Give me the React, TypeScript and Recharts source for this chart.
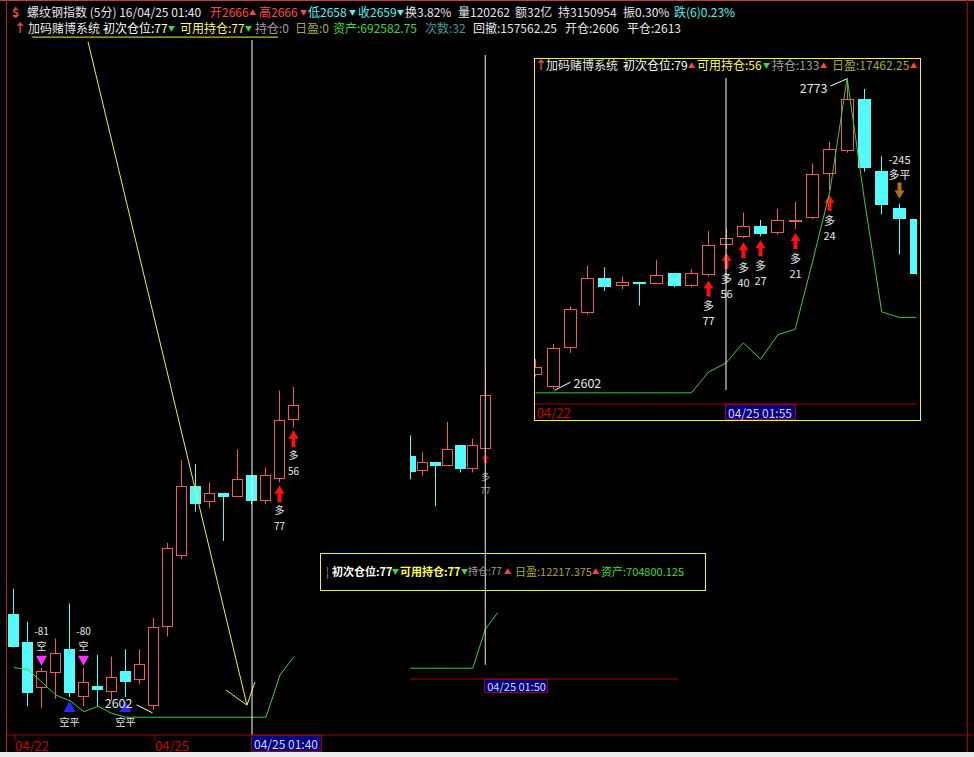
import React from "react";
import { Bar, ComposedChart, Line, ReferenceLine, XAxis, YAxis } from "recharts";

const FONT = '"Noto Sans CJK SC", "Noto Sans", sans-serif';
const UP = "#f05a5a";
const DOWN = "#55fbfb";
const EQ = "#3ccc3c";
const AXIS = "#a00000";
const RED = "#ff4848";
const CYAN = "#55f0f0";
const WHITE = "#e6e6e6";
const YELLOW = "#ffff50";
const GREY = "#a0a0a0";
const OLIVE = "#a8a838";
const GREEN = "#3cdc3c";
const TEAL = "#3c9c9c";

// 螺纹钢指数 5分钟 bars, index 0 = first bar at the left of the main window
const opens = [2628, 2620.5, 2608, 2612, 2618.5, 2605.5, 2608.5, 2607, 2612.5, 2610, 2603, 2624.5, 2644, 2663, 2658.5, 2661, 2660, 2666, 2659, 2665, 2681, 2685.5, 2691.5, 2688, 2694.5, 2696, 2720, 2733, 2761.5, 2722, 2701.5, 2695.5];
const highs = [2635, 2626, 2613.5, 2621.5, 2631, 2613.5, 2617, 2616.5, 2618.5, 2618.5, 2627, 2647.5, 2670, 2669, 2664, 2661, 2673, 2666, 2668, 2689, 2690, 2699, 2695, 2701, 2705, 2726, 2738, 2773, 2767, 2730, 2704, 2695.5];
const lows = [2619, 2603, 2602.5, 2605, 2605.5, 2603, 2603, 2604.5, 2605.5, 2609, 2602, 2622, 2643, 2656, 2657, 2648, 2660, 2658, 2658, 2664, 2679, 2685, 2686, 2687, 2690, 2695.5, 2711, 2732, 2721.5, 2698, 2676, 2665];
const closes = [2619, 2606.5, 2612.5, 2617.5, 2606.5, 2609.5, 2607.5, 2611, 2609.5, 2614.5, 2624.5, 2646, 2663, 2658, 2661, 2660, 2665, 2659, 2666, 2681, 2685, 2691.5, 2687.5, 2695, 2695, 2720, 2734, 2761.5, 2723.5, 2703, 2695.5, 2665.5];
// equity curve of the system, drawn on the price scale
const equity = [2613.5, 2613, 2609.5, 2606, 2604.5, 2601.5, 2603, 2601, 2600, 2600, 2600, 2600, 2600, 2600, 2600, 2600, 2600, 2600, 2600, 2611.5, 2616.5, 2627.5, 2618.5, 2632, 2635, 2672, 2710.5, 2773, 2706, 2644.5, 2641.5, 2641.5];

type Signal = { i: number; kind: "long" | "short" | "cover" | "sell"; text: string; note?: string };
const signals: Signal[] = [
  { i: 2, kind: "short", text: "空", note: "-81" },
  { i: 4, kind: "cover", text: "空平" },
  { i: 5, kind: "short", text: "空", note: "-80" },
  { i: 8, kind: "cover", text: "空平" },
  { i: 19, kind: "long", text: "多", note: "77" },
  { i: 20, kind: "long", text: "多", note: "56" },
  { i: 21, kind: "long", text: "多", note: "40" },
  { i: 22, kind: "long", text: "多", note: "27" },
  { i: 24, kind: "long", text: "多", note: "21" },
  { i: 26, kind: "long", text: "多", note: "24" },
  { i: 30, kind: "sell", text: "多平", note: "-245" },
];

// hand drawn yellow arrow on the main window: [bar index, price] pairs
const trendArrow = [
  [[1.29, 2785.3], [18.86, 2785.3]],
  [[5.29, 2784], [16.64, 2603.3]],
  [[15.14, 2607.4], [16.64, 2603.3]],
  [[17.21, 2609.6], [16.64, 2603.3]],
];

const mainDates: Record<number, string> = { 0: "04/22", 10: "04/25" };
const insetDates: Record<number, string> = { 9: "04/22" };

type Seg = { t: string; x: number; c: string; s?: number; b?: boolean };
const quoteRow: Seg[] = [
  { t: "$", x: 12, c: RED, b: true },
  { t: "螺纹钢指数 (5分) 16/04/25 01:40", x: 27, c: WHITE },
  { t: "开2666", x: 210, c: RED }, { t: "▲", x: 249, c: RED, s: 7 },
  { t: "高2666", x: 259, c: RED }, { t: "▼", x: 300, c: RED, s: 7 },
  { t: "低2658", x: 308, c: CYAN }, { t: "▼", x: 349, c: CYAN, s: 7 },
  { t: "收2659", x: 358, c: CYAN }, { t: "▼", x: 397, c: CYAN, s: 7 },
  { t: "换3.82%", x: 405, c: WHITE },
  { t: "量120262", x: 458, c: WHITE },
  { t: "额32亿", x: 515, c: WHITE },
  { t: "持3150954", x: 558, c: WHITE },
  { t: "振0.30%", x: 623, c: WHITE },
  { t: "跌(6)0.23%", x: 674, c: CYAN },
];
const systemRow: Seg[] = [
  { t: "↑", x: 14, c: RED, b: true },
  { t: "加码赌博系统", x: 28, c: WHITE },
  { t: "初次仓位:77", x: 103, c: "#ffffff" }, { t: "▼", x: 168, c: GREEN, s: 7 },
  { t: "可用持仓:77", x: 180, c: YELLOW }, { t: "▼", x: 245, c: GREEN, s: 7 },
  { t: "持仓:0", x: 255, c: GREY },
  { t: "日盈:0", x: 295, c: OLIVE },
  { t: "资产:692582.75", x: 333, c: GREEN },
  { t: "次数:32", x: 425, c: TEAL },
  { t: "回撤:157562.25", x: 473, c: WHITE },
  { t: "开仓:2606", x: 565, c: WHITE },
  { t: "平仓:2613", x: 627, c: WHITE },
];
const insetRow: Seg[] = [
  { t: "↑", x: 535, c: RED, b: true },
  { t: "加码赌博系统", x: 546, c: WHITE },
  { t: "初次仓位:79", x: 623, c: "#ffffff" }, { t: "▲", x: 688, c: RED, s: 7 },
  { t: "可用持仓:56", x: 697, c: YELLOW }, { t: "▼", x: 763, c: GREEN, s: 7 },
  { t: "持仓:133", x: 772, c: GREY }, { t: "▲", x: 820, c: RED, s: 7 },
  { t: "日盈:17462.25", x: 832, c: OLIVE }, { t: "▲", x: 910, c: RED, s: 7 },
];
const infoRow: Seg[] = [
  { t: "¦", x: 326, c: GREY, s: 11 },
  { t: "初次仓位:77", x: 332, c: "#ffffff", s: 11, b: true },
  { t: "▼", x: 392, c: GREEN, s: 7 },
  { t: "可用持仓:77", x: 400, c: YELLOW, s: 11, b: true },
  { t: "▼", x: 461, c: GREEN, s: 7 },
  { t: "持仓:77", x: 468, c: GREY, s: 10 },
  { t: "▲", x: 504, c: RED, s: 7 },
  { t: "日盈:12217.375", x: 515, c: OLIVE, s: 11 },
  { t: "▲", x: 592, c: RED, s: 7 },
  { t: "资产:704800.125", x: 601, c: GREEN, s: 11 },
];

const rows = opens.map((o, i) => ({
  i,
  o,
  h: highs[i],
  l: lows[i],
  c: closes[i],
  range: [lows[i], highs[i]],
  eq: equity[i],
}));
const pad = (from: number, to: number) => Array.from({ length: to - from }, (_, k) => ({ i: from + k }));
const mainRows = [...rows.slice(0, 21), ...pad(21, 69)];
const insetRows = rows.slice(9, 32);
const midRows = [...rows.slice(13, 20), { i: 20, eq: equity[20] }, ...pad(21, 35)];

const sigByBar = new Map(signals.map((s) => [s.i, s]));

type Extreme = { i: number; at: "low" | "high"; side: "left" | "right" };
type CandleStyle = {
  bodyW: number;
  arrowW: number;
  arrowH: number;
  gap: number;
  t1: number;
  t2: number;
  arrowFill: string;
  textFill: string;
  fontSize: number;
  extremes: Extreme[];
};

const makeCandle = (st: CandleStyle) => (props: any) => {
  const { x, y, width, height, payload } = props;
  if (!payload || payload.o == null || !Number.isFinite(y) || !Number.isFinite(height)) return <g />;
  const top = Math.min(y, y + height);
  const bot = Math.max(y, y + height);
  const k = (bot - top) / (payload.h - payload.l);
  const py = (p: number) => top + (payload.h - p) * k;
  const cx = Math.floor(x + width / 2) + 0.5;
  const up = payload.c >= payload.o;
  const yh = py(payload.h);
  const yl = py(payload.l);
  const bTop = Math.round(py(Math.max(payload.o, payload.c)));
  const bBot = Math.round(py(Math.min(payload.o, payload.c)));
  const parts: React.ReactNode[] = [];
  if (up) {
    parts.push(<line key="w1" x1={cx} x2={cx} y1={yh} y2={bTop} stroke={UP} />);
    parts.push(<line key="w2" x1={cx} x2={cx} y1={bBot} y2={yl} stroke={UP} />);
    parts.push(
      <rect key="b" x={cx - (st.bodyW - 1) / 2} y={bTop + 0.5} width={st.bodyW - 1}
        height={Math.max(1, bBot - bTop - 1)} fill="none" stroke={UP} />
    );
  } else {
    parts.push(<line key="w" x1={cx} x2={cx} y1={yh} y2={yl} stroke={DOWN} />);
    parts.push(
      <rect key="b" x={cx - st.bodyW / 2} y={bTop} width={st.bodyW} height={Math.max(2, bBot - bTop)} fill={DOWN} />
    );
  }

  const txt = (key: string, ty: number, s: string, fill = st.textFill, size = st.fontSize) => (
    <text key={key} x={cx} y={ty} textAnchor="middle" dominantBaseline="central"
      fontFamily={FONT} fontSize={size} fill={fill}>{s}</text>
  );

  const sig = sigByBar.get(payload.i);
  if (sig) {
    const H = st.arrowH;
    const hh = H * 0.5;
    const w = st.arrowW / 2;
    const s = Math.max(1.5, st.arrowW / 5);
    if (sig.kind === "long") {
      const t = yl + st.gap;
      parts.push(
        <path key="sa" fill={st.arrowFill}
          d={`M${cx},${t} L${cx + w},${t + hh} L${cx + s},${t + hh} L${cx + s},${t + H} L${cx - s},${t + H} L${cx - s},${t + hh} L${cx - w},${t + hh} Z`} />
      );
      parts.push(txt("st", yl + st.t1, sig.text));
      if (sig.note) parts.push(txt("sn", yl + st.t2, sig.note));
    } else if (sig.kind === "sell") {
      const b = yh - 5;
      parts.push(
        <path key="sa" fill="#b07018"
          d={`M${cx},${b} L${cx + w},${b - hh} L${cx + s},${b - hh} L${cx + s},${b - H} L${cx - s},${b - H} L${cx - s},${b - hh} L${cx - w},${b - hh} Z`} />
      );
      parts.push(txt("st", yh - 30, sig.text));
      if (sig.note) parts.push(txt("sn", yh - 45, sig.note));
    } else if (sig.kind === "short") {
      parts.push(<path key="sa" fill="#ff33ff" d={`M${cx - 5.5},${yh - 12} L${cx + 5.5},${yh - 12} L${cx},${yh - 2} Z`} />);
      parts.push(txt("st", yh - 22, sig.text));
      if (sig.note) parts.push(txt("sn", yh - 37, sig.note));
    } else {
      parts.push(<path key="sa" fill="#2626ff" d={`M${cx},${yl + 4} L${cx + 6},${yl + 15} L${cx - 6},${yl + 15} Z`} />);
      parts.push(txt("st", yl + 24, sig.text));
    }
  }

  const ex = st.extremes.find((e) => e.i === payload.i);
  if (ex) {
    const label = String(Math.round(ex.at === "low" ? payload.l : payload.h));
    if (ex.at === "low" && ex.side === "left") {
      parts.push(<line key="el" x1={cx - 17} y1={yl - 5} x2={cx - 1} y2={yl + 3} stroke="#ffffff" />);
      parts.push(<text key="et" x={cx - 21} y={yl - 7} textAnchor="end" dominantBaseline="central" fontFamily={FONT} fontSize={12.5} fill={WHITE}>{label}</text>);
    } else if (ex.at === "low") {
      parts.push(<line key="el" x1={cx + 1} y1={yl + 1} x2={cx + 17} y2={yl - 7} stroke="#ffffff" />);
      parts.push(<text key="et" x={cx + 20} y={yl - 7} textAnchor="start" dominantBaseline="central" fontFamily={FONT} fontSize={12.5} fill={WHITE}>{label}</text>);
    } else {
      parts.push(<line key="el" x1={cx - 17} y1={yh + 8} x2={cx - 1} y2={yh + 1} stroke="#ffffff" />);
      parts.push(<text key="et" x={cx - 20} y={yh + 9} textAnchor="end" dominantBaseline="central" fontFamily={FONT} fontSize={12.5} fill={WHITE}>{label}</text>);
    }
  }
  return <g>{parts}</g>;
};

type TickCfg = {
  dates: Record<number, string>;
  cursor: { i: number; label: string };
  boxW: number;
  boxH: number;
  fontSize: number;
  dateTick: boolean;
  dateDy: number;
};

const makeTick = (cfg: TickCfg) => (props: any) => {
  const { x, y, payload } = props;
  const v = Number(payload?.value);
  if (v === cfg.cursor.i) {
    return (
      <g>
        <rect x={Math.round(x) - 0.5} y={y + 0.5} width={cfg.boxW} height={cfg.boxH} fill="#000080" stroke={AXIS} />
        <text x={x + 2} y={y + cfg.boxH / 2 + 0.5} dominantBaseline="central" fill="#d8d8ff"
          fontSize={cfg.fontSize} fontFamily={FONT}>{cfg.cursor.label}</text>
      </g>
    );
  }
  const d = cfg.dates[v];
  if (!d) return <g />;
  return (
    <g>
      {cfg.dateTick && <line x1={x + 1} x2={x + 1} y1={y} y2={y + 6} stroke={AXIS} />}
      <text x={x + 1} y={y + cfg.dateDy} dominantBaseline="central" fill="#c80000" fontSize={13} fontFamily={FONT}>{d}</text>
    </g>
  );
};

const mainCandle = makeCandle({
  bodyW: 11, arrowW: 10, arrowH: 17, gap: 3, t1: 27, t2: 43,
  arrowFill: "#ff1010", textFill: WHITE, fontSize: 10,
  extremes: [{ i: 10, at: "low", side: "left" }],
});
const insetCandle = makeCandle({
  bodyW: 13, arrowW: 10, arrowH: 16, gap: 4, t1: 29, t2: 44,
  arrowFill: "#ff1010", textFill: WHITE, fontSize: 11,
  extremes: [{ i: 10, at: "low", side: "right" }, { i: 27, at: "high", side: "left" }],
});
const midCandle = makeCandle({
  bodyW: 11, arrowW: 8, arrowH: 9, gap: 2, t1: 24, t2: 38,
  arrowFill: "#d00000", textFill: "#a0a0a0", fontSize: 9,
  extremes: [],
});

const mainTick = makeTick({ dates: mainDates, cursor: { i: 17, label: "04/25 01:40" }, boxW: 70, boxH: 16, fontSize: 12, dateTick: true, dateDy: 10 });
const insetTick = makeTick({ dates: insetDates, cursor: { i: 20, label: "04/25 01:55" }, boxW: 70, boxH: 15, fontSize: 12, dateTick: false, dateDy: 8 });
const midTick = makeTick({ dates: {}, cursor: { i: 19, label: "04/25 01:50" }, boxW: 63, boxH: 13, fontSize: 11, dateTick: false, dateDy: 8 });

const TextRow = ({ segs, y }: { segs: Seg[]; y: number }) => (
  <>
    {segs.map((s, k) => (
      <span key={k} style={{
        position: "absolute", left: s.x, top: y - 8, lineHeight: "16px", fontSize: s.s ?? 12,
        color: s.c, fontWeight: s.b ? 700 : 400, whiteSpace: "nowrap", fontFamily: FONT,
      }}>{s.t}</span>
    ))}
  </>
);

export default function App() {
  return (
    <div style={{ position: "fixed", left: 0, top: 0, width: 974, height: 757, background: "#000", overflow: "hidden", fontFamily: FONT }}>
      {/* main window */}
      <div style={{ position: "absolute", left: 0, top: 0 }}>
        <ComposedChart width={974} height={757} data={mainRows} margin={{ top: 36, right: 1, bottom: 0, left: 7 }}>
          <XAxis dataKey="i" type="category" height={22} axisLine={{ stroke: AXIS }} tickLine={false}
            tickSize={0} tickMargin={0} ticks={[0, 10, 17]} interval={0} tick={mainTick} />
          <XAxis xAxisId="n" dataKey="i" type="number" domain={[-0.5, 68.5]} hide allowDataOverflow />
          <YAxis hide type="number" domain={[2595.15, 2785.6]} allowDataOverflow />
          <Bar dataKey="range" shape={mainCandle} isAnimationActive={false} />
          <Line dataKey="eq" stroke={EQ} dot={false} activeDot={false} isAnimationActive={false} />
          {trendArrow.map((seg, k) => (
            <ReferenceLine key={k} xAxisId="n" stroke="#f0f040" ifOverflow="visible"
              segment={[{ x: seg[0][0], y: seg[0][1] }, { x: seg[1][0], y: seg[1][1] }]} />
          ))}
          <ReferenceLine xAxisId="n" stroke="#ffffff" ifOverflow="visible"
            segment={[{ x: 17, y: 2784.5 }, { x: 17, y: 2595.15 }]} />
        </ComposedChart>
      </div>

      {/* ghost copy of the window in the middle */}
      <div style={{ position: "absolute", left: 410, top: 0, width: 290, height: 700, overflow: "hidden" }}>
        <div style={{ position: "absolute", left: -6, top: 0 }}>
          <ComposedChart width={275} height={700} data={midRows} margin={{ top: 55, right: 0, bottom: 0, left: 0 }}>
            <XAxis dataKey="i" type="category" height={21} axisLine={{ stroke: AXIS }} tickLine={false}
              tickSize={0} tickMargin={0} ticks={[19]} interval={0} tick={midTick} />
            <XAxis xAxisId="n" dataKey="i" type="number" domain={[12.5, 34.5]} hide allowDataOverflow />
            <YAxis hide type="number" domain={[2596.8, 2781.7]} allowDataOverflow />
            <Bar dataKey="range" shape={midCandle} isAnimationActive={false} />
            <Line dataKey="eq" stroke={EQ} dot={false} activeDot={false} isAnimationActive={false} />
            <ReferenceLine xAxisId="n" stroke="#e8e8e8" ifOverflow="visible"
              segment={[{ x: 19, y: 2781.7 }, { x: 19, y: 2601 }]} />
          </ComposedChart>
        </div>
      </div>

      {/* info box */}
      <div style={{ position: "absolute", left: 320, top: 553, width: 386, height: 38, border: "1px solid #f0f040", boxSizing: "border-box" }} />
      <TextRow segs={infoRow} y={571} />

      {/* inset window */}
      <div style={{ position: "absolute", left: 534, top: 58, width: 387, height: 363, border: "1px solid #f0f040", boxSizing: "border-box", background: "#000" }} />
      <div style={{ position: "absolute", left: 535, top: 59, width: 382, height: 361, overflow: "hidden" }}>
        <div style={{ position: "absolute", left: -8, top: -1 }}>
          <ComposedChart width={398} height={362} data={insetRows} margin={{ top: 20, right: 0, bottom: 0, left: 0 }}>
            <XAxis dataKey="i" type="category" height={16} axisLine={{ stroke: AXIS }} tickLine={false}
              tickSize={0} tickMargin={0} ticks={[9, 20]} interval={0} tick={insetTick} />
            <XAxis xAxisId="n" dataKey="i" type="number" domain={[8.5, 31.5]} hide allowDataOverflow />
            <YAxis hide type="number" domain={[2593.9, 2773]} allowDataOverflow />
            <Bar dataKey="range" shape={insetCandle} isAnimationActive={false} />
            <Line dataKey="eq" stroke={EQ} dot={false} activeDot={false} isAnimationActive={false} />
            <ReferenceLine xAxisId="n" stroke="#ffffff" ifOverflow="visible"
              segment={[{ x: 20, y: 2773 }, { x: 20, y: 2601.6 }]} />
          </ComposedChart>
        </div>
      </div>
      <TextRow segs={insetRow} y={65} />

      {/* header rows */}
      <TextRow segs={quoteRow} y={12} />
      <TextRow segs={systemRow} y={28} />

      {/* window frame */}
      <div style={{ position: "absolute", left: 0, top: 0, width: 974, height: 1, background: "#c04040" }} />
      <div style={{ position: "absolute", left: 6, top: 0, width: 1, height: 752, background: "#b02020" }} />
      <div style={{ position: "absolute", left: 967, top: 0, width: 1, height: 752, background: AXIS }} />
      <div style={{ position: "absolute", left: 0, top: 752, width: 974, height: 5, background: "#ececec" }} />
    </div>
  );
}
